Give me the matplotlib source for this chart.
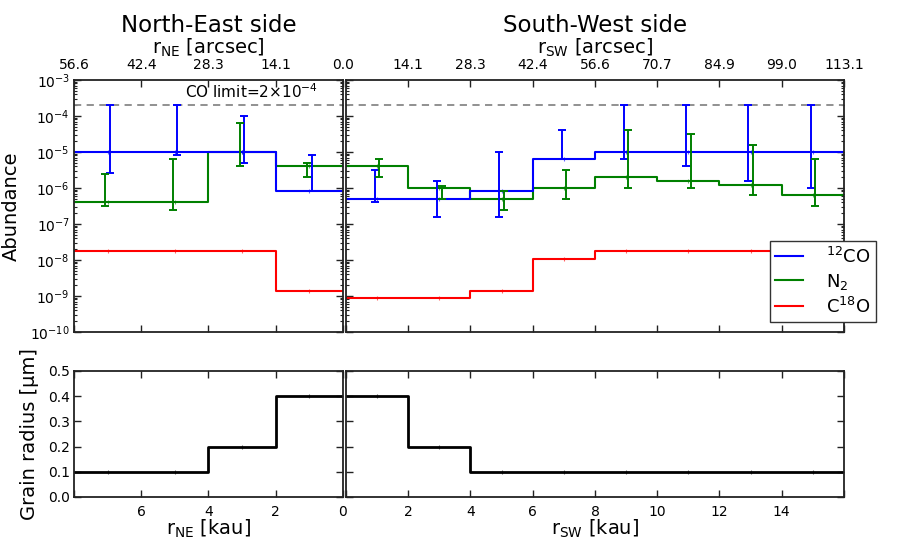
import matplotlib
matplotlib.use('Agg')
import matplotlib.pyplot as plt
import numpy as np
from matplotlib.ticker import LogLocator, NullFormatter
from matplotlib.lines import Line2D

plt.rcParams['font.family'] = ['DejaVu Sans']
plt.rcParams['mathtext.default'] = 'regular'

# ---------------- data ----------------
bin_width = 2.0
ne_centers = [1, 3, 5, 7]
sw_centers = [1, 3, 5, 7, 9, 11, 13, 15]

ne_co = [8e-7, 1e-5, 1e-5, 1e-5]
ne_n2 = [4e-6, 1e-5, 4e-7, 4e-7]
ne_c18o = [1.4e-9, 1.8e-8, 1.8e-8, 1.8e-8]
ne_grain = [0.4, 0.2, 0.1, 0.1]

sw_co = [5e-7, 5e-7, 8e-7, 6.4e-6, 1e-5, 1e-5, 1e-5, 1e-5]
sw_n2 = [4e-6, 1e-6, 5e-7, 1e-6, 2e-6, 1.6e-6, 1.25e-6, 6.3e-7]
sw_c18o = [8.7e-10, 8.7e-10, 1.4e-9, 1.1e-8, 1.8e-8, 1.8e-8, 1.8e-8, 1.8e-8]
sw_grain = [0.4, 0.2, 0.1, 0.1, 0.1, 0.1, 0.1, 0.1]

# error-bar ranges (lower, upper)
ne_co_lo = [8e-7, 5e-6, 8.3e-6, 2.6e-6]
ne_co_hi = [8e-6, 1e-4, 2e-4, 2e-4]
ne_n2_lo = [2e-6, 4e-6, 2.5e-7, 3.2e-7]
ne_n2_hi = [5e-6, 6.4e-5, 6.4e-6, 2.5e-6]

sw_co_lo = [4e-7, 1.6e-7, 1.6e-7, 6.4e-6, 6.4e-6, 4e-6, 1.6e-6, 1e-6]
sw_co_hi = [3.2e-6, 1.6e-6, 1e-5, 4e-5, 2e-4, 2e-4, 2e-4, 2e-4]
sw_n2_lo = [2e-6, 5e-7, 2.5e-7, 5e-7, 1e-6, 1e-6, 6.3e-7, 3.2e-7]
sw_n2_hi = [6.4e-6, 1.15e-6, 8e-7, 3.2e-6, 4e-5, 3.2e-5, 1.6e-5, 6.4e-6]

co_limit = 2e-4

ne_kau_ticks = [8, 6, 4, 2, 0]
ne_kau_labels = ['', '6', '4', '2', '0']
ne_arcsec_labels = ['56.6', '42.4', '28.3', '14.1', '0.0']
sw_kau_ticks = [0, 2, 4, 6, 8, 10, 12, 14, 16]
sw_kau_labels = ['', '2', '4', '6', '8', '10', '12', '14', '']
sw_arcsec_labels = ['', '14.1', '28.3', '42.4', '56.6', '70.7', '84.9', '99.0', '113.1']
grain_ticks = [0.0, 0.1, 0.2, 0.3, 0.4, 0.5]
grain_labels = ['0.0', '0.1', '0.2', '0.3', '0.4', '0.5']

series_labels = ['$^{12}$CO', 'N$_2$', 'C$^{18}$O']
colors = ['#0000ff', '#008000', '#ff0000']

# ---------------- figure ----------------
fig = plt.figure(figsize=(9.04, 5.39), dpi=100)
W, H = 904, 539


def rect(x0, y0, x1, y1):
    return [x0 / W, 1 - y1 / H, (x1 - x0) / W, (y1 - y0) / H]


ax_ne = fig.add_axes(rect(74, 80, 343, 332))
ax_sw = fig.add_axes(rect(346, 80, 844, 332))
ax_neg = fig.add_axes(rect(74, 371, 343, 497))
ax_swg = fig.add_axes(rect(346, 371, 844, 497))


def edges_of(centers):
    c = np.asarray(centers, float)
    return np.append(c - bin_width / 2, c[-1] + bin_width / 2)


def step(ax, centers, vals, color, lw=1.5):
    e = edges_of(centers)
    v = list(vals) + [vals[-1]]
    ax.step(e, v, where='post', color=color, lw=lw)
    ax.plot(centers, vals, ls='none', marker='|', ms=2.5, mew=0.8,
            color=color, alpha=0.6)


def ebar(ax, centers, vals, lo, hi, color, off):
    x = np.asarray(centers, float) + off
    v = np.asarray(vals)
    yerr = [v - np.asarray(lo), np.asarray(hi) - v]
    ax.errorbar(x, v, yerr=yerr, fmt='none', ecolor=color, elinewidth=1.4,
                capsize=2.8, capthick=1.4)


def style(ax):
    for s in ax.spines.values():
        s.set_linewidth(1.3)
        s.set_color('#222222')
    ax.tick_params(which='both', direction='in', top=True, bottom=True,
                   left=True, right=True, labelsize=10, color='#222222')
    ax.tick_params(which='major', length=5, width=1)
    ax.tick_params(which='minor', length=2.5, width=0.8)
    ax.tick_params(axis='x', pad=6)
    ax.tick_params(axis='y', pad=3)


# abundance panels
for ax, cen, co, n2, c18, colo, cohi, nlo, nhi in [
        (ax_ne, ne_centers, ne_co, ne_n2, ne_c18o, ne_co_lo, ne_co_hi, ne_n2_lo, ne_n2_hi),
        (ax_sw, sw_centers, sw_co, sw_n2, sw_c18o, sw_co_lo, sw_co_hi, sw_n2_lo, sw_n2_hi)]:
    ax.set_yscale('log')
    ax.axhline(co_limit, color='#888888', ls='--', lw=1.3, dashes=(4, 3))
    step(ax, cen, c18, colors[2])
    step(ax, cen, n2, colors[1])
    step(ax, cen, co, colors[0])
    ebar(ax, cen, co, colo, cohi, colors[0], -0.07)
    ebar(ax, cen, n2, nlo, nhi, colors[1], 0.07)
    ax.set_ylim(1e-10, 1e-3)
    ax.yaxis.set_major_locator(LogLocator(base=10, numticks=20))
    ax.yaxis.set_minor_locator(LogLocator(base=10, subs=np.arange(2, 10), numticks=20))
    ax.yaxis.set_minor_formatter(NullFormatter())
    style(ax)
    ax.tick_params(axis='x', labeltop=True, labelbottom=False)
    ax.xaxis.set_label_position('top')

ax_ne.set_xlim(8, 0)
ax_sw.set_xlim(0, 16)
ax_ne.set_xticks(ne_kau_ticks)
ax_ne.set_xticklabels(ne_arcsec_labels)
ax_sw.set_xticks(sw_kau_ticks)
ax_sw.set_xticklabels(sw_arcsec_labels)
ax_ne.set_xlabel('r$_{NE}$ [arcsec]', fontsize=14, labelpad=3)
ax_sw.set_xlabel('r$_{SW}$ [arcsec]', fontsize=14, labelpad=3)
ax_ne.set_ylabel('Abundance', fontsize=14, labelpad=7)
ax_sw.tick_params(axis='y', labelleft=False)

ax_ne.text(0.907, 0.952, 'CO limit=2$\\times$10$^{-4}$', transform=ax_ne.transAxes,
           ha='right', va='center', fontsize=11)

# legend
handles = [Line2D([], [], color=c, lw=1.5) for c in colors]
leg = ax_sw.legend(handles, series_labels, loc='upper right',
                   bbox_to_anchor=(1.064, 0.361), borderaxespad=0,
                   fontsize=13, handlelength=1.5, handletextpad=1.3,
                   labelspacing=0.28, borderpad=0.3, fancybox=False,
                   framealpha=1, edgecolor='#333333')
leg.get_frame().set_linewidth(1.0)

# grain panels
step(ax_neg, ne_centers, ne_grain, 'k', lw=2)
step(ax_swg, sw_centers, sw_grain, 'k', lw=2)
for ax in (ax_neg, ax_swg):
    ax.set_ylim(0, 0.5)
    ax.set_yticks(grain_ticks)
    style(ax)
ax_neg.set_xlim(8, 0)
ax_swg.set_xlim(0, 16)
ax_neg.set_xticks(ne_kau_ticks)
ax_neg.set_xticklabels(ne_kau_labels)
ax_swg.set_xticks(sw_kau_ticks)
ax_swg.set_xticklabels(sw_kau_labels)
ax_neg.set_yticklabels(grain_labels)
ax_swg.tick_params(axis='y', labelleft=False)
ax_neg.set_ylabel('Grain radius [μm]', fontsize=14, labelpad=6)
ax_neg.set_xlabel('r$_{NE}$ [kau]', fontsize=14, labelpad=-1)
ax_swg.set_xlabel('r$_{SW}$ [kau]', fontsize=14, labelpad=-1)

# titles
fig.text((74 + 343) / 2 / W, 1 - 32 / H, 'North-East side', ha='center',
         va='baseline', fontsize=16.5)
fig.text((346 + 844) / 2 / W, 1 - 32 / H, 'South-West side', ha='center',
         va='baseline', fontsize=16.5)

fig.savefig('out.png', dpi=100)
